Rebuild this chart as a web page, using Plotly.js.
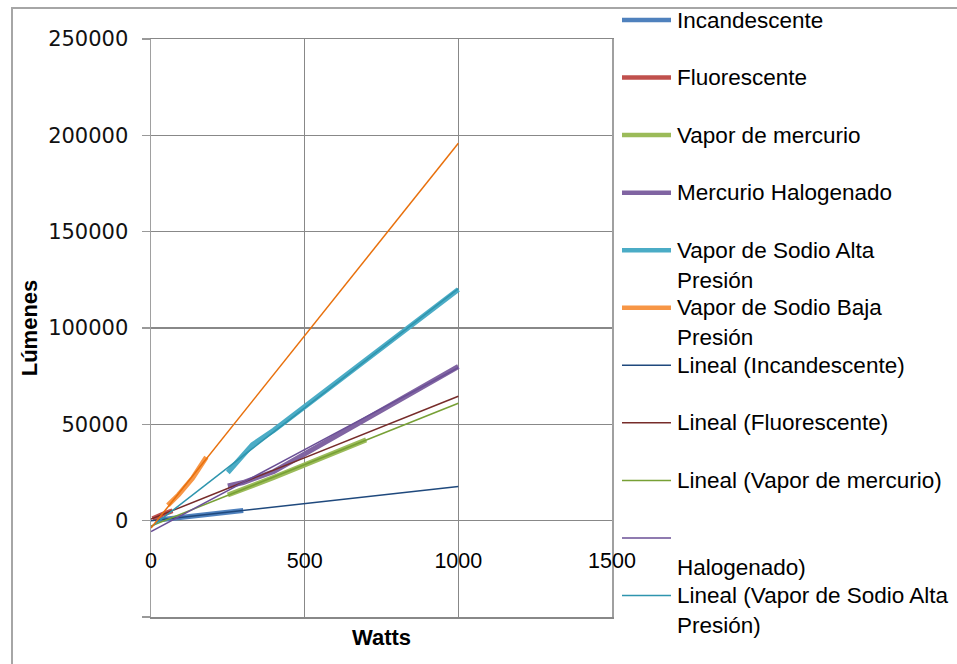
<!DOCTYPE html>
<html>
<head>
<meta charset="utf-8">
<script src="https://cdn.plot.ly/plotly-3.0.1.min.js"></script>
<style>html,body{margin:0;padding:0;background:#fff;}#chart{width:957px;height:664px;}</style>
</head>
<body>
<div id="chart"></div>
<script>
// ---------- data ----------
const wattsIncandescente = [15, 25, 40, 60, 75, 100, 150, 200, 300];
const lumenIncandescente = [230, 400, 650, 1000, 1300, 1750, 2650, 3500, 5300];

const wattsFluorescente = [5, 15, 20, 30, 40, 60, 70];
const lumenFluorescente = [950, 1750, 2100, 2800, 3450, 4600, 5150];

const wattsMercurio = [250, 400, 700];
const lumenMercurio = [13300, 22500, 41900];

const wattsHalogenado = [250, 300, 400, 1000];
const lumenHalogenado = [18000, 19800, 25500, 80000];

const wattsSodioAlta = [250, 330, 400, 1000];
const lumenSodioAlta = [25000, 39500, 47000, 120000];

const wattsSodioBaja = [55, 90, 135, 180];
const lumenSodioBaja = [8000, 13500, 22000, 33000];

const seriesNames = ['Incandescente', 'Fluorescente', 'Vapor de mercurio',
  'Mercurio Halogenado', 'Vapor de Sodio Alta Presión', 'Vapor de Sodio Baja Presión'];
const trendRange = [0, 1000];          // trend lines forecast over 0–1000 W

const xTickVals = [0, 500, 1000, 1500];
const xTickText = ['0', '500', '1000', '1500'];
const yTickVals = [-50000, 0, 50000, 100000, 150000, 200000, 250000];
const yTickText = ['', '0', '50000', '100000', '150000', '200000', '250000'];

// legend as drawn in the reference (it overflows the chart, so the last entry is cut)
const legendLines = [
  ['Incandescente'],
  ['Fluorescente'],
  ['Vapor de mercurio'],
  ['Mercurio Halogenado'],
  ['Vapor de Sodio Alta', 'Presión'],
  ['Vapor de Sodio Baja', 'Presión'],
  ['Lineal (Incandescente)'],
  ['Lineal (Fluorescente)'],
  ['Lineal (Vapor de mercurio)'],
  ['', 'Halogenado)'],
  ['Lineal (Vapor de Sodio Alta', 'Presión)']
];

// ---------- styling ----------
const seriesColors = ['#4F81BD', '#C0504D', '#9BBB59', '#8064A2', '#4BACC6', '#F79646'];
const trendColors  = ['#1F497D', '#772C2A', '#77A035', '#6A4F96', '#2E95AE', '#E8700C'];
const FONT = '"Liberation Sans", Arial, sans-serif';

const allX = [wattsIncandescente, wattsFluorescente, wattsMercurio, wattsHalogenado, wattsSodioAlta, wattsSodioBaja];
const allY = [lumenIncandescente, lumenFluorescente, lumenMercurio, lumenHalogenado, lumenSodioAlta, lumenSodioBaja];

function linfit(xs, ys) {
  const n = xs.length;
  const mx = xs.reduce((a, b) => a + b, 0) / n;
  const my = ys.reduce((a, b) => a + b, 0) / n;
  let sxy = 0, sxx = 0;
  for (let i = 0; i < n; i++) { sxy += (xs[i] - mx) * (ys[i] - my); sxx += (xs[i] - mx) ** 2; }
  const m = sxy / sxx;
  return { m: m, b: my - m * mx };
}

const traces = [];
for (let i = 0; i < 6; i++) {
  traces.push({
    type: 'scatter', mode: 'lines', name: seriesNames[i],
    x: allX[i], y: allY[i],
    line: { color: seriesColors[i], width: 5 },
    showlegend: false, hoverinfo: 'x+y+name'
  });
}
for (let i = 0; i < 6; i++) {
  const f = linfit(allX[i], allY[i]);
  traces.push({
    type: 'scatter', mode: 'lines', name: 'Lineal (' + seriesNames[i] + ')',
    x: trendRange, y: trendRange.map(x => f.m * x + f.b),
    line: { color: trendColors[i], width: 1.5 },
    showlegend: false, hoverinfo: 'x+y+name'
  });
}

// ---------- layout geometry ----------
const W = 957, H = 664;
const M = { l: 151, r: 345, t: 39, b: 47 };
const PW = W - M.l - M.r, PH = H - M.t - M.b;
const px = v => (v - M.l) / PW;
const py = v => (H - M.b - v) / PH;

const shapes = [];
const annotations = [];

// outer chart border
shapes.push({ type: 'rect', xref: 'paper', yref: 'paper', layer: 'below',
  x0: px(12), x1: px(962), y0: py(670), y1: py(8),
  line: { color: '#a6a6a6', width: 2 }, fillcolor: 'rgba(0,0,0,0)' });

const legTop = 20, legStep = 57.55, legLine2 = 30;
legendLines.forEach((lines, i) => {
  const yc = legTop + i * legStep;
  const isTrend = i >= 6;
  const ci = isTrend ? i - 6 : i;
  shapes.push({ type: 'line', xref: 'paper', yref: 'paper',
    x0: px(622), x1: px(671), y0: py(yc), y1: py(yc),
    line: { color: isTrend ? trendColors[ci] : seriesColors[ci], width: isTrend ? 1.5 : 4.5 } });
  lines.forEach((t, k) => {
    if (!t) return;
    annotations.push({ xref: 'paper', yref: 'paper', x: px(675), y: py(yc + k * legLine2),
      xanchor: 'left', yanchor: 'middle', showarrow: false, text: t,
      font: { family: FONT, size: 22.5, color: '#000' } });
  });
});

const layout = {
  width: W, height: H, margin: M,
  paper_bgcolor: '#fff', plot_bgcolor: '#fff',
  showlegend: false,
  xaxis: {
    range: [0, 1500], tickvals: xTickVals, ticktext: xTickText,
    showgrid: true, gridcolor: '#888', gridwidth: 1.5,
    showline: true, linecolor: '#888', linewidth: 1.5, mirror: true,
    zeroline: false, ticks: '',
    tickfont: { family: FONT, size: 21.5, color: '#000' },
    ticklabelstandoff: -76,
    title: { text: 'Watts', font: { family: FONT, size: 22, color: '#000', weight: 'bold' }, standoff: 57 },
    automargin: false
  },
  yaxis: {
    range: [-50000, 250000], tickvals: yTickVals, ticktext: yTickText,
    showgrid: true, gridcolor: '#888', gridwidth: 1.5,
    showline: true, linecolor: '#a0a0a0', linewidth: 1.5, mirror: true,
    zeroline: true, zerolinecolor: '#888', zerolinewidth: 1.5,
    ticks: 'outside', ticklen: 8, tickcolor: '#999', tickwidth: 1.5,
    tickfont: { family: 'DejaVu Sans', size: 21, color: '#111' },
    ticklabelstandoff: 9,
    title: { text: 'Lúmenes', font: { family: FONT, size: 22, color: '#000', weight: 'bold' }, standoff: 4 },
    automargin: false
  },
  shapes: shapes,
  annotations: annotations
};

Plotly.newPlot('chart', traces, layout, { displayModeBar: false, staticPlot: true });
</script>
</body>
</html>
